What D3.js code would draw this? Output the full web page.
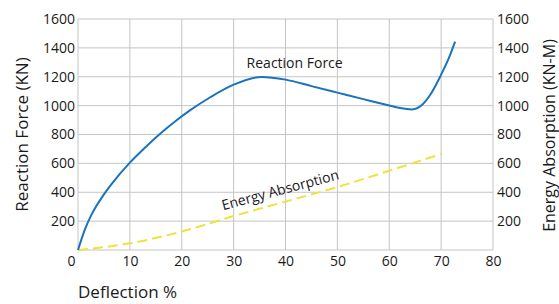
<!DOCTYPE html>
<html>
<head>
<meta charset="utf-8">
<script src="https://cdn.jsdelivr.net/npm/d3@7"></script>
<style>
  body { margin: 0; background: #fff; }
  text { font-family: "Open Sans", sans-serif; fill: #1a1a1a; }
</style>
</head>
<body>
<div id="chart"></div>
<script>
var max_w = 559;
var max_h = 304;
var margin = {top: 19, right: 66, bottom: 54, left: 78};
var width = max_w - margin.left - margin.right;
var height = max_h - margin.top - margin.bottom;

// reaction force curve (deflection %, KN)
var force_x = [0, 1.3, 2.6, 4.9, 6.5, 10, 12.9, 15.5, 18.7, 21.5, 25.5, 30, 35.4, 40, 45, 50, 55, 60.2, 62.1, 64.4, 66.3, 68, 69.8, 71.5, 72.7];
var force_y = [0, 140, 245, 380, 458, 605, 708, 795, 890, 965, 1058, 1145, 1199, 1180, 1135, 1090, 1045, 999, 983, 974, 1004, 1080, 1200, 1330, 1443];

// energy absorption (deflection %, KN-M)
var energy_x = [0, 10, 20, 30, 40, 50, 60, 70];
var energy_y = [0, 46, 128, 235, 335, 436, 549, 665];

var x_ticks = [0, 10, 20, 30, 40, 50, 60, 70, 80];
var y_ticks = [200, 400, 600, 800, 1000, 1200, 1400, 1600];

var x = d3.scaleLinear()
        .domain([0, 80])
        .range([0, width]);

var y = d3.scaleLinear()
          .domain([0, 1600])
          .range([height, 0]);

var svg = d3.select("#chart")
        .append("svg")
          .attr("width", max_w)
          .attr("height", max_h)
        .append("g")
          .attr("transform", "translate(" + margin.left + "," + margin.top + ")");

// grid
svg.append("g")
   .selectAll("line")
   .data(x_ticks)
   .join("line")
     .attr("x1", d => x(d)).attr("x2", d => x(d))
     .attr("y1", 0).attr("y2", height)
     .attr("stroke", "#c4c4c4").attr("stroke-width", 1);

svg.append("g")
   .selectAll("line")
   .data([0].concat(y_ticks))
   .join("line")
     .attr("x1", 0).attr("x2", width)
     .attr("y1", d => y(d)).attr("y2", d => y(d))
     .attr("stroke", "#c4c4c4").attr("stroke-width", 1);

// axes
var xAxis = svg.append("g")
    .attr("transform", "translate(0," + height + ")")
    .call(d3.axisBottom(x).tickValues(x_ticks).tickFormat(d3.format("d")).tickSize(0).tickPadding(6));
xAxis.selectAll("text").attr("dx", d => d === 0 ? -7 : 0);

var yAxisL = svg.append("g")
   .call(d3.axisLeft(y).tickValues(y_ticks).tickFormat(d3.format("d")).tickSize(0).tickPadding(3));

var yAxisR = svg.append("g")
   .attr("transform", "translate(" + width + ",0)")
   .call(d3.axisRight(y).tickValues(y_ticks).tickFormat(d3.format("d")).tickSize(0).tickPadding(4));

[xAxis, yAxisL, yAxisR].forEach(function(a){
  a.select(".domain").remove();
  a.selectAll("text").style("font-family", "'Open Sans', sans-serif").style("font-size", "14px").attr("fill", "#1a1a1a");
});

// energy absorption line
var energy = energy_x.map((d, i) => ({x: d, y: energy_y[i]}));
svg.append("path")
      .datum(energy)
      .attr("fill", "none")
      .attr("stroke", "#eee33a")
      .attr("stroke-width", 2)
      .attr("stroke-dasharray", "10,5")
      .attr("d", d3.line()
        .curve(d3.curveMonotoneX)
        .x(function(d) { return x(d.x) })
        .y(function(d) { return y(d.y) })
       );

// reaction force line
var force = force_x.map((d, i) => ({x: d, y: force_y[i]}));
svg.append("path")
      .datum(force)
      .attr("fill", "none")
      .attr("stroke", "#1a73bd")
      .attr("stroke-width", 2)
      .attr("d", d3.line()
        .curve(d3.curveMonotoneX)
        .x(function(d) { return x(d.x) })
        .y(function(d) { return y(d.y) })
       );

// in-chart labels
svg.append("text")
   .attr("x", x(32.5)).attr("y", y(1259))
   .style("font-size", "14px")
   .text("Reaction Force");

svg.append("text")
   .attr("transform", "translate(" + x(28) + "," + y(275) + ") rotate(-15)")
   .style("font-size", "14px")
   .text("Energy Absorption");

// axis titles
svg.append("text")
   .attr("transform", "translate(" + (-50) + "," + (height / 2) + ") rotate(-90)")
   .attr("text-anchor", "middle")
   .style("font-size", "17px")
   .text("Reaction Force (KN)");

svg.append("text")
   .attr("transform", "translate(" + (width + 62) + "," + (height / 2 + 1) + ") rotate(-90)")
   .attr("text-anchor", "middle")
   .style("font-size", "16px")
   .text("Energy Absorption (KN-M)");

svg.append("text")
   .attr("x", 0).attr("y", height + 48)
   .style("font-size", "17px")
   .text("Deflection %");
</script>
</body>
</html>
